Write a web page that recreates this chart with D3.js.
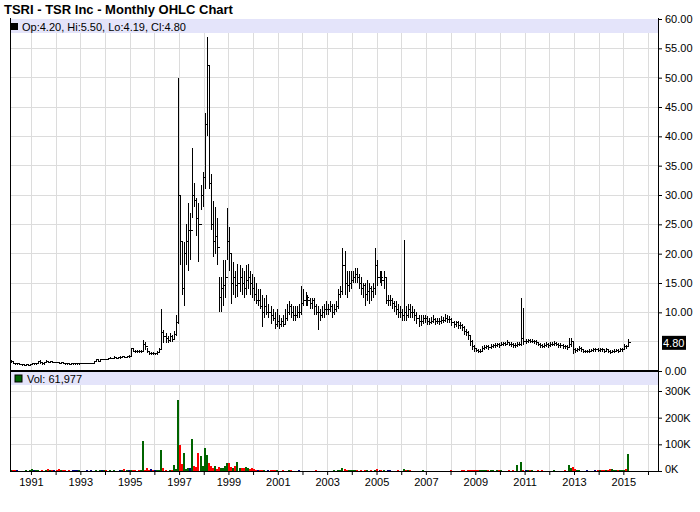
<!DOCTYPE html>
<html><head><meta charset="utf-8">
<script src="https://cdn.jsdelivr.net/npm/d3@7"></script>
<style>body{margin:0;background:#fff}text{font-family:"Liberation Sans",Arial,sans-serif}</style>
</head><body>
<svg id="c" width="700" height="512"></svg>
<script>
// monthly data, Mar 1990 .. Mar 2015
var startYear = 1990, startMonth = 2;
var closes = [1.6,1.3,1.2,1.2,1.1,1.1,1.0,1.1,1.0,1.1,
 1.2,1.2,1.3,1.6,1.4,1.2,1.5,1.6,1.5,1.6,1.5,1.5,
 1.4,1.3,1.4,1.3,1.2,1.2,1.1,1.2,1.2,1.2,1.2,1.3,
 1.3,1.3,1.3,1.3,1.3,1.3,1.6,1.9,1.6,1.9,1.9,2.0,
 1.9,2.1,2.2,2.1,2.3,2.2,2.3,2.3,2.4,2.3,2.5,2.5,
 3.8,3.4,3.3,3.4,3.3,3.4,4.6,4.2,3.3,3.0,3.0,2.9,
 2.9,3.2,3.6,6.5,5.8,5.6,5.2,5.8,5.3,6.2,8.2,30.0,
 22,14,20,22,24,24,30,29,26,25,30,33,
 42,52,32,25,22,23,21,12.5,14,14.6,16,22,
 20,15,16,14.5,15,16,15,14,15.5,16,15,14,
 13,12,12,11,10,11,10,10,9.5,9,8,8.5,
 8,8.5,8,9,10,11,10,9.5,9.5,10,10,11.5,
 12,12.5,12,11.5,12,11,10,10,9.5,10,10.5,10.5,
 10.5,11,10,10.5,11,13,13.5,18,15,14.5,15,15.5,
 16,16.5,16,15,14,14.5,13,13.5,14,13.5,14,18,
 16,16,15.5,16,12,12,12,11.5,11,10.5,10,10,
 9.5,10,9.5,10.5,10,10,9.5,9,8.5,8.5,9,9,
 8.5,8.3,8.5,8.7,8.4,8.5,8.4,8.6,8.6,9.0,8.8,8.7,
 8.3,8.0,8.2,7.8,7.8,7.5,6.8,6.5,6.0,5.0,4.2,3.8,
 3.5,3.3,3.4,3.8,4.0,4.1,4.0,4.2,4.3,4.3,4.5,4.4,
 4.6,4.7,4.5,4.8,4.6,4.5,4.4,4.3,4.5,4.5,5.5,5.0,
 5.0,5.2,5.0,5.1,5.0,4.8,4.6,4.3,4.2,4.4,4.5,4.3,
 4.5,4.6,4.7,4.6,4.4,4.3,4.2,4.1,4.0,4.5,5.0,3.6,
 3.5,3.6,3.8,3.7,3.4,3.3,3.3,3.4,3.5,3.6,3.6,3.5,
 3.7,3.6,3.4,3.6,3.3,3.2,3.3,3.4,3.5,3.4,3.6,3.7,
 4.2,4.1,4.8];
var highs = [1.8,1.7,1.4,1.3,1.3,1.2,1.2,1.2,1.2,1.2,
 1.3,1.3,1.4,1.7,1.8,1.5,1.6,1.8,1.7,1.7,1.7,1.6,
 1.6,1.5,1.5,1.5,1.4,1.3,1.3,1.3,1.3,1.3,1.3,1.4,
 1.4,1.4,1.4,1.4,1.4,1.4,1.7,2.1,1.9,2.0,2.1,2.1,
 2.1,2.3,2.4,2.3,2.5,2.4,2.4,2.5,2.6,2.5,2.6,2.7,
 4.0,3.9,3.6,3.6,3.6,3.6,5.2,4.9,4.0,3.4,3.2,3.2,
 3.1,3.4,3.9,10.5,7.0,6.5,6.0,6.5,6.2,6.8,9.5,50.0,
 30,22,22,25,28.6,27,38,32,29.5,28.6,31.7,34,
 44,57,52,33.6,29,28,26,16,16,19,19,27.7,
 24.6,20,18.5,17,18.3,18,17.5,17,18,18.3,17,16.5,
 16,15,14,14,13,12.5,13,11.5,11,10.5,10,10.5,
 9.5,9,9.5,10.5,11.5,12,11.5,11,11,11,11.5,14.5,
 14,13.5,13,12.5,12.5,12.5,11.5,11,10.5,11,11.5,12,
 11.5,12,11.5,11.5,12,14,14.5,21,20.5,17,17,17,
 17,17.5,17.5,16.5,16,15,15,15.5,15,14.5,15,21,
 19,17,17,17,16,13,13,12.5,12,12,11.5,11,
 10.5,22.3,11,11.5,11.5,11,10.5,10,9.5,9.5,9.5,9.5,
 9.3,9,9.2,9.5,9.0,9.1,9.0,9.3,9.2,9.8,9.5,9.3,
 9,8.6,8.6,8.5,8.3,8.0,7.6,7.2,6.8,6.2,5.2,4.5,
 4.0,3.8,3.8,4.2,4.4,4.5,4.4,4.6,4.6,4.7,4.8,4.8,
 5.0,5.0,4.9,5.3,5.0,4.9,4.8,4.7,4.9,5.0,12.4,10.7,
 5.4,5.5,5.4,5.4,5.3,5.2,5.0,4.8,4.6,4.8,4.9,4.8,
 4.9,5.0,5.1,5.0,4.8,4.7,4.6,4.5,4.4,5.7,5.6,5.0,
 3.9,3.9,4.2,4.1,3.8,3.6,3.6,3.7,3.8,3.9,3.9,3.9,
 4.0,3.9,3.8,3.9,3.7,3.5,3.6,3.7,3.8,3.7,3.9,4.0,
 4.6,4.5,5.5];
var lows = [1.4,1.2,1.1,1.1,1.0,0.9,0.9,1.0,0.9,0.9,
 1.0,1.1,1.1,1.2,1.2,1.1,1.1,1.4,1.4,1.4,1.4,1.4,
 1.3,1.2,1.2,1.2,1.1,1.1,1.0,1.1,1.1,1.1,1.1,1.1,
 1.2,1.2,1.2,1.2,1.2,1.2,1.3,1.5,1.5,1.5,1.8,1.8,
 1.8,1.9,2.0,2.0,2.0,2.0,2.1,2.1,2.2,2.2,2.2,2.3,
 2.5,3.2,3.0,3.1,3.0,3.0,3.3,3.5,3.0,2.8,2.8,2.8,
 2.8,2.8,3.2,3.5,4.8,4.8,4.8,5.0,5.0,5.2,6.0,8.0,
 18,13,11,18,17,19,26,28,23,18.6,27.4,28,
 31,40,31,24,19.5,20,18,10,10,11,12.5,19,
 17,11.5,13,12.5,12.6,13.5,13,12.5,13,14,13,12.5,
 12,11.5,11,10.5,7.5,9,9.5,9,8,8.5,7.2,7.5,
 7.2,7.5,7.5,8,8.5,9.5,9,8.5,8.5,9,9,9.5,
 11,11,11,10.5,10.5,9.5,9.5,7.0,8.5,9,9,9.5,
 9.5,10,9,9.5,10,10.5,12.5,13,13,12.5,13.5,14,
 15,15,15,14,13,12.5,11,12,11.5,12,12.5,13,
 14.5,15,14.5,14,11.5,11,11,10.5,10,9.5,9,9,
 8.5,8.5,8.5,9,9,9,8.5,8,7.5,7.6,8,8.2,
 7.8,7.8,8.0,8.1,7.9,8.0,7.9,8.0,8.1,8.4,8.2,8.1,
 7.6,7.4,7.5,7.2,7.2,6.8,6.2,6.0,5.2,4.2,3.5,3.2,
 3.2,3.0,3.1,3.3,3.6,3.7,3.6,3.8,3.9,3.9,4.1,4.0,
 4.2,4.3,4.2,4.4,4.2,4.1,4.0,4.0,4.1,4.2,4.3,4.5,
 4.6,4.8,4.7,4.7,4.6,4.4,4.2,3.9,3.9,4.0,4.1,4.0,
 4.1,4.2,4.3,4.2,4.0,3.9,3.8,3.7,3.6,3.9,4.1,2.9,
 3.1,3.2,3.4,3.3,3.1,3.0,3.0,3.1,3.2,3.3,3.3,3.2,
 3.3,3.2,3.0,3.2,3.0,2.9,3.0,3.1,3.2,3.1,3.2,3.3,
 3.6,3.8,4.19];
var volumesK = [3,2,5,5,1,0,1,2,1,2,
 6,2,3,5,1,2,1,2,7,3,3,2,
 2,6,2,3,2,1,2,1,2,2,2,3,
 1,1,1,2,1,2,1,3,1,2,3,2,
 2,1,3,1,2,1,1,3,5,7,2,2,
 3,2,2,1,2,5,112,4,12,5,8,4,
 3,2,5,79,12,3,1,2,2,22,8,266,
 98,25,68,8,10,12,120,18,15,68,55,20,
 86,60,30,20,12,18,8,15,12,10,18,30,
 30,15,12,20,35,12,10,10,15,12,8,10,
 6,5,3,3,2,2,1,2,2,2,3,2,
 1,1,2,0,0,2,2,1,0,1,2,1,
 1,0,0,0,0,0,2,1,0,0,0,0,
 0,0,0,2,1,2,5,12,6,4,5,3,
 3,2,2,1,2,1,3,2,1,2,1,2,
 6,3,2,2,1,4,2,1,1,1,2,1,
 1,8,3,2,2,1,1,1,1,1,2,1,
 1,1,1,1,1,1,1,1,1,1,1,1,
 2,1,1,1,1,2,2,1,4,3,2,2,
 4,2,2,3,3,3,2,2,2,1,2,2,
 3,1,1,1,2,1,2,1,22,1,32,4,
 2,3,2,2,1,1,2,1,2,1,1,1,
 1,1,2,1,1,1,1,3,1,22,10,14,
 6,3,2,1,1,1,2,1,1,1,4,2,
 3,5,4,2,4,6,8,4,2,3,2,4,
 3,6,62];
var priceTicks = [0,10,15,20,25,30,35,40,45,50,55,60];
var volTicks = [0,100,200,300];
var yearLabels = [1991,1993,1995,1997,1999,2001,2003,2005,2007,2009,2011,2013,2015];

var data = closes.map(function (c, i) {
  return { date: new Date(startYear, startMonth + i, 15), o: i ? closes[i-1] : 1.5,
           h: highs[i], l: lows[i], c: c, v: volumesK[i] };
});
data[data.length-1].o = 4.20;

var svg = d3.select("#c");
var L = 10, R = 658;
var x = d3.scaleTime().domain([new Date(1990,1,25), new Date(2016,4,28)]).range([L, R]);
var y = d3.scaleLinear().domain([0, 60]).range([371, 19]);
var yv = d3.scaleLinear().domain([0, 300]).range([471, 391]);

svg.append("text").attr("x", 4).attr("y", 14).attr("font-size", 13).attr("font-weight", "bold").text("TSRI - TSR Inc - Monthly OHLC Chart");

// grids
var years = d3.range(1991, 2017).map(function (yr) { return new Date(yr, 0, 1); });
var grid = svg.append("g").attr("stroke", "#dcdcdc").attr("shape-rendering", "crispEdges");
grid.selectAll(".v").data(years).enter().append("line")
  .attr("x1", d => Math.round(x(d)) + 0.5).attr("x2", d => Math.round(x(d)) + 0.5).attr("y1", 19).attr("y2", 471);
grid.selectAll(".h").data(d3.range(5, 60, 5)).enter().append("line")
  .attr("x1", L).attr("x2", R).attr("y1", d => y(d)).attr("y2", d => y(d));
grid.selectAll(".hv").data([100, 200, 300]).enter().append("line")
  .attr("x1", L).attr("x2", R).attr("y1", d => yv(d)).attr("y2", d => yv(d));

// legend bands
svg.append("rect").attr("x", L).attr("y", 19).attr("width", R - L).attr("height", 14).attr("fill", "#e4e4fa");
svg.append("rect").attr("x", 11).attr("y", 23).attr("width", 7).attr("height", 7).attr("fill", "#000");
svg.append("text").attr("x", 22).attr("y", 31).attr("font-size", 11).text("Op:4.20, Hi:5.50, Lo:4.19, Cl:4.80");
svg.append("rect").attr("x", L).attr("y", 372).attr("width", R - L).attr("height", 13).attr("fill", "#e4e4fa");
svg.append("rect").attr("x", 15).attr("y", 375).attr("width", 7).attr("height", 7).attr("fill", "#006400").attr("stroke", "#000");
svg.append("text").attr("x", 27).attr("y", 383).attr("font-size", 11).text("Vol: 61,977");

// OHLC bars
var bars = svg.append("g").attr("stroke", "#000").attr("stroke-width", 1).attr("shape-rendering", "crispEdges");
data.forEach(function (d) {
  var cx = Math.round(x(d.date)) + 0.5;
  bars.append("line").attr("x1", cx).attr("x2", cx).attr("y1", y(d.h)).attr("y2", y(d.l));
  bars.append("line").attr("x1", cx - 2).attr("x2", cx).attr("y1", y(d.o)).attr("y2", y(d.o));
  bars.append("line").attr("x1", cx).attr("x2", cx + 2).attr("y1", y(d.c)).attr("y2", y(d.c));
});

// volume bars
svg.append("g").attr("shape-rendering", "crispEdges").selectAll("rect").data(data).enter().append("rect")
  .attr("x", d => Math.round(x(d.date)) - 1).attr("width", 2)
  .attr("y", d => yv(d.v)).attr("height", d => 471 - yv(d.v))
  .attr("fill", d => d.c > d.o ? "#006400" : d.c < d.o ? "#ff0000" : "#000080");

// frames
svg.append("line").attr("x1", L + 0.5).attr("x2", L + 0.5).attr("y1", 18).attr("y2", 471).attr("stroke", "#000");
svg.append("line").attr("x1", R + 0.5).attr("x2", R + 0.5).attr("y1", 18).attr("y2", 471).attr("stroke", "#000");
svg.append("line").attr("x1", L).attr("x2", R).attr("y1", 371).attr("y2", 371).attr("stroke", "#000").attr("stroke-width", 2);
svg.append("line").attr("x1", L).attr("x2", R).attr("y1", 471.5).attr("y2", 471.5).attr("stroke", "#000");

// right axes
var ay = d3.axisRight(y).tickValues(priceTicks).tickSize(4).tickFormat(d3.format(".2f"));
var g1 = svg.append("g").attr("transform", "translate(" + R + ",0)").call(ay);
var av = d3.axisRight(yv).tickValues(volTicks).tickSize(4).tickFormat(d => d + "K");
var g2 = svg.append("g").attr("transform", "translate(" + R + ",0)").call(av);
[g1, g2].forEach(function (g) {
  g.select(".domain").remove();
  g.selectAll("text").attr("font-size", 11).attr("font-family", "Liberation Sans, Arial, sans-serif").attr("fill", "#000");
});
g2.selectAll(".tick text").attr("dy", d => d === 0 ? "0.1em" : "0.32em");
var last = data[data.length - 1];
svg.append("rect").attr("x", R + 4).attr("y", y(last.c) - 7).attr("width", 24).attr("height", 14).attr("fill", "#000");
svg.append("text").attr("x", R + 5).attr("y", y(last.c) + 4).attr("font-size", 11).attr("fill", "#fff").text(last.c.toFixed(2));

// bottom axis
var ax = d3.axisBottom(x).tickValues(years).tickSize(4).tickFormat(d => yearLabels.indexOf(d.getFullYear()) >= 0 ? d.getFullYear() : "");
var g3 = svg.append("g").attr("transform", "translate(0,471)").call(ax);
g3.select(".domain").remove();
g3.selectAll("text").attr("font-size", 11).attr("font-family", "Liberation Sans, Arial, sans-serif").attr("fill", "#000");
</script>
</body></html>
